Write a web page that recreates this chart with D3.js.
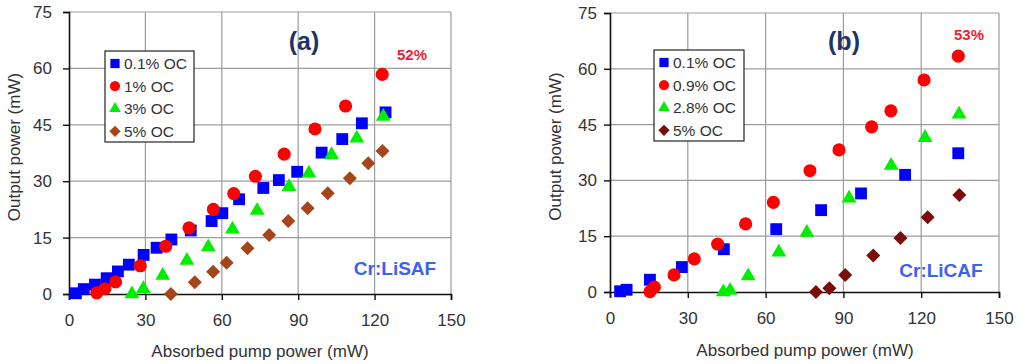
<!DOCTYPE html>
<html>
<head>
<meta charset="utf-8">
<script src="https://cdn.jsdelivr.net/npm/d3@7"></script>
<style>
  body { margin: 0; background: #fff; }
  svg { display: block; font-family: "Liberation Sans", Arial, sans-serif; }
</style>
</head>
<body>
<svg id="chart" width="1021" height="364"></svg>
<script>
// axis ticks shared by both panels
const xTicks = [0, 30, 60, 90, 120, 150];
const yTicks = [0, 15, 30, 45, 60, 75];

// panel (a) Cr:LiSAF  [absorbed pump power, output power]
const safLabels = ["0.1% OC", "1% OC", "3% OC", "5% OC"];
const saf01 = [[2.7,0.2],[5.8,1.3],[10.2,2.5],[14.8,4.2],[19.2,6.0],[23.5,7.8],[29.3,10.4],[34.4,12.3],[40.2,14.5],[47.8,16.9],[56,19.4],[60.2,21.5],[66.8,25.2],[76.3,28.2],[82.4,30.3],[89.6,32.5],[99.2,37.6],[107.3,41.2],[115,45.4],[124.3,48.3]];
const saf1  = [[10.9,0.3],[14.1,1.4],[18.3,3.2],[28,7.5],[38,12.7],[47.1,17.6],[56.7,22.5],[64.7,26.7],[73.2,31.3],[84.5,37.2],[96.6,43.9],[108.6,50],[123,58.4]];
const saf3  = [[24.7,0],[29.2,1.4],[36.8,4.9],[46.3,8.9],[54.7,12.5],[64.2,17.2],[73.9,22.2],[86.4,28.5],[94.2,32.1],[103.1,37],[113,41.4],[123.4,47.2]];
const saf5  = [[40,0],[49.4,3.1],[56.6,5.9],[61.9,8.3],[70.1,12.2],[78.6,15.7],[86.1,19.4],[93.7,22.8],[101.6,26.8],[110.3,30.8],[117.5,34.8],[123.1,38]];

// panel (b) Cr:LiCAF
const cafLabels = ["0.1% OC", "0.9% OC", "2.8% OC", "5% OC"];
const caf01 = [[3.9,0.2],[6.4,0.6],[15.4,3.3],[27.7,6.7],[43.9,11.5],[64.1,16.9],[81.4,22],[96.8,26.5],[113.8,31.5],[134.3,37.3]];
const caf09 = [[15.4,0.1],[17.1,1.3],[24.7,4.6],[32.5,8.9],[41.5,12.9],[52.3,18.3],[63,24.1],[77.1,32.6],[88.3,38.2],[100.9,44.4],[108.3,48.7],[121.1,57],[134.3,63.4]];
const caf28 = [[43.7,0],[46.3,0.4],[53.3,4.3],[65.1,10.7],[75.9,16],[92.2,25.2],[108.4,34],[121.5,41.5],[134.6,47.8]];
const caf5  = [[79.4,0],[84.6,1],[90.7,4.6],[101.5,9.8],[112,14.5],[122.5,20.1],[134.7,26.1]];

const svg = d3.select("#chart");

/**
 * build a marker path for a legend or data point
 */
function markerPath(kind) {
    if (kind === "square") return d3.symbol(d3.symbolSquare, 140)();
    if (kind === "circle") return d3.symbol(d3.symbolCircle, 135)();
    if (kind === "triangle") return d3.symbol(d3.symbolTriangle, 95)();
    // diamond: square turned by 45 degrees
    return "M0,-7L7,0L0,7L-7,0Z";
}

/**
 * draw one panel
 */
function drawPanel(p) {
    const w = p.x1 - p.x0, h = p.y0 - p.y1;
    const x = d3.scaleLinear().domain([0, 150]).range([0, w]);
    const y = d3.scaleLinear().domain([0, 75]).range([h, 0]);

    const g = svg.append("g").attr("transform", `translate(${p.x0}, ${p.y1})`);

    // grid lines
    g.append("g").selectAll("line.gx")
        .data(xTicks.slice(1))
        .enter().append("line")
        .attr("x1", d => x(d)).attr("x2", d => x(d))
        .attr("y1", 0).attr("y2", h)
        .attr("stroke", "#9c9c9c").attr("stroke-width", 1.2);
    g.append("g").selectAll("line.gy")
        .data(yTicks.slice(1))
        .enter().append("line")
        .attr("x1", 0).attr("x2", w)
        .attr("y1", d => y(d)).attr("y2", d => y(d))
        .attr("stroke", "#9c9c9c").attr("stroke-width", 1.2);

    // axes
    const xAxis = g.append("g")
        .attr("transform", `translate(0, ${h})`)
        .call(d3.axisBottom(x).tickValues(xTicks).tickSize(6).tickPadding(14));
    const yAxis = g.append("g")
        .call(d3.axisLeft(y).tickValues(yTicks).tickSize(6).tickPadding(p.yPad));
    [xAxis, yAxis].forEach(a => {
        a.select(".domain").attr("stroke", "#111").attr("stroke-width", 1.6);
        a.selectAll(".tick line").attr("stroke", "#111").attr("stroke-width", 1.4);
        a.selectAll(".tick text").attr("fill", "#333").style("font-size", "17px").style("font-family", "Liberation Sans, Arial, sans-serif");
    });

    // axis titles
    g.append("text")
        .attr("x", p.xTitleX - p.x0)
        .attr("y", p.xTitleY - p.y1)
        .attr("text-anchor", "middle")
        .attr("fill", "#333")
        .style("font-size", "17px")
        .text("Absorbed pump power (mW)");
    g.append("text")
        .attr("transform", `translate(${p.yTitleX - p.x0}, ${h / 2 - 6}) rotate(-90)`)
        .attr("text-anchor", "middle")
        .attr("fill", "#333")
        .style("font-size", "17px")
        .text("Output power (mW)");

    // data points
    p.series.forEach(s => {
        g.append("g").selectAll("path")
            .data(s.data)
            .enter().append("path")
            .attr("d", markerPath(s.shape))
            .attr("transform", d => `translate(${x(d[0])}, ${y(d[1])})`)
            .attr("fill", s.color);
    });

    // annotations
    g.append("text")
        .attr("x", p.tagX - p.x0).attr("y", 50 - p.y1)
        .attr("text-anchor", "middle")
        .attr("fill", "#1c3566")
        .style("font-size", "25px").style("font-weight", "bold")
        .text(p.tag);
    g.append("text")
        .attr("x", p.effX - p.x0).attr("y", p.effY - p.y1)
        .attr("text-anchor", "middle")
        .attr("fill", "#ee2233")
        .style("font-size", "15px").style("font-weight", "bold")
        .text(p.eff);
    g.append("text")
        .attr("x", p.nameX - p.x0).attr("y", p.nameY - p.y1)
        .attr("text-anchor", "middle")
        .attr("fill", "#3c62ee")
        .style("font-size", "19px").style("font-weight", "bold")
        .text(p.name);

    // legend
    const lg = svg.append("g").attr("transform", `translate(${p.legX}, ${p.legY})`);
    lg.append("rect")
        .attr("width", p.legW).attr("height", 91)
        .attr("fill", "#fff").attr("stroke", "#222").attr("stroke-width", 1.2);
    p.series.forEach((s, i) => {
        const row = lg.append("g").attr("transform", `translate(10, ${12.5 + i * 22.6})`);
        row.append("path")
            .attr("d", markerPath(s.shape))
            .attr("transform", s.shape === "diamond" ? "scale(0.8)" : "scale(0.78)")
            .attr("fill", s.color);
        row.append("text")
            .attr("x", 9).attr("y", 5.5)
            .attr("fill", "#333")
            .style("font-size", "15.5px")
            .text(s.label);
    });
}

drawPanel({
    x0: 69, x1: 451, y0: 294, y1: 12, yPad: 11,
    xTitleX: 260, xTitleY: 357, yTitleX: 20,
    tag: "(a)", tagX: 304, eff: "52%", effX: 412, effY: 60,
    name: "Cr:LiSAF", nameX: 395, nameY: 275,
    legX: 105, legY: 51, legW: 89,
    series: [
        { label: safLabels[0], data: saf01, shape: "square", color: "#0000ff" },
        { label: safLabels[1], data: saf1, shape: "circle", color: "#ff0000" },
        { label: safLabels[2], data: saf3, shape: "triangle", color: "#00ee00" },
        { label: safLabels[3], data: saf5, shape: "diamond", color: "#a5461a" }
    ]
});

drawPanel({
    x0: 610, x1: 999, y0: 292, y1: 13, yPad: 7,
    xTitleX: 805, xTitleY: 356, yTitleX: 561,
    tag: "(b)", tagX: 844, eff: "53%", effX: 969, effY: 40,
    name: "Cr:LiCAF", nameX: 941, nameY: 277,
    legX: 654, legY: 50, legW: 90,
    series: [
        { label: cafLabels[0], data: caf01, shape: "square", color: "#0000ff" },
        { label: cafLabels[1], data: caf09, shape: "circle", color: "#ff0000" },
        { label: cafLabels[2], data: caf28, shape: "triangle", color: "#00ee00" },
        { label: cafLabels[3], data: caf5, shape: "diamond", color: "#7a0c0c" }
    ]
});
</script>
</body>
</html>
